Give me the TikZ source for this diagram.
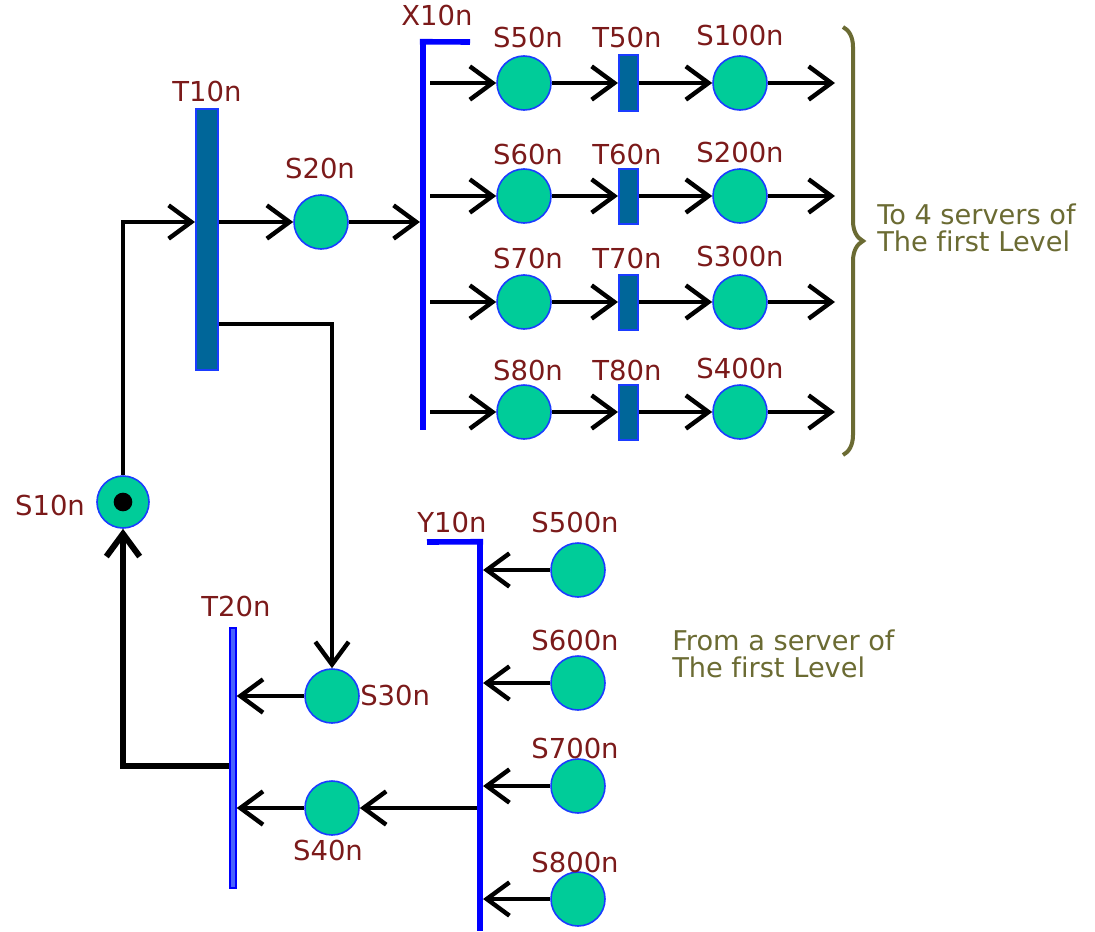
\documentclass[tikz,border=0pt]{standalone}
\usepackage{fontspec}
\setmainfont[Ligatures=NoCommon]{DejaVu Sans}
\usetikzlibrary{arrows.meta,decorations.pathreplacing,calc}
\definecolor{labred}{HTML}{7B1A1A}
\definecolor{olivetxt}{HTML}{6B6B33}
\definecolor{placefill}{HTML}{00CC99}
\definecolor{transfill}{HTML}{006699}
\definecolor{edgeblue}{HTML}{1A3CFF}
\begin{document}
\begin{tikzpicture}[x=0.75pt,y=-0.75pt,
  place/.style={circle,draw=edgeblue,line width=1.2pt,fill=placefill,minimum size=40.5pt,inner sep=0pt},
  trans/.style={rectangle,draw=edgeblue,line width=1.5pt,fill=transfill,minimum width=14.25pt,minimum height=41.25pt,inner sep=0pt},
  bar/.style={rectangle,fill=blue,draw=none,minimum width=4.2pt,inner sep=0pt},
  lab/.style={font=\fontsize{20.6}{23}\selectfont,text=labred,inner sep=0pt},
  note/.style={font=\fontsize{20.4}{20.5}\selectfont,text=olivetxt,align=left,inner sep=0pt,anchor=west},
  conn/.style={line width=3.3pt,black},
  arr/.style={conn,-{Straight Barb[length=17pt,width=25pt]}},
  ]
\useasboundingbox (0,0) rectangle (1095,931);

% ---------- S10n and T10n ----------
\node[place,minimum size=39pt] (S10) at (123,502) {};
\node[circle,fill=black,minimum size=14pt,inner sep=0pt] (S10dot) at (123,502) {};
\node[lab] (S10lab) at (50,505) {S10n};

\node[trans,minimum width=16.5pt,minimum height=195.75pt] (T10) at (207,239.5) {};
\node[lab] (T10lab) at (207,92) {T10n};

\node[place] (S20) at (321,222) {};
\node[lab] (S20lab) at (320,168) {S20n};

% ---------- X10n bar ----------
\node[bar,minimum height=291pt] (X10) at (423,236) {};
\draw[blue,line width=4.2pt] (X10.north west) -- (470,42);
\node[lab] (X10lab) at (437,16) {X10n};

% ---------- rows ----------
\foreach \i/\y/\sa/\t/\sb/\ly in {1/83/S50n/T50n/S100n/38,
                               2/196/S60n/T60n/S200n/155,
                               3/302/S70n/T70n/S300n/258,
                               4/412/S80n/T80n/S400n/370}{
  \node[place] (SA\i) at (524,\y) {};
  \node[trans] (T\i) at (628.5,\y) {};
  \node[place] (SB\i) at (740,\y) {};
  \coordinate (E\i) at (835,\y);
  \coordinate (B\i) at (430,\y);
  \node[lab] (SA\i lab) at (528,\ly) {\sa};
  \node[lab] (T\i lab) at (627,\ly) {\t};
  \node[lab] (SB\i lab) at (740,\ly-2) {\sb};
  \draw[arr] (B\i) -- (SA\i);
  \draw[arr] (SA\i) -- (T\i);
  \draw[arr] (T\i) -- (SB\i);
  \draw[arr] (SB\i) -- (E\i);
}

% ---------- brace and note ----------
\draw[olivetxt,line width=3pt,decorate,decoration={brace,amplitude=15pt}] (843,27) -- (843,455);
\node[note] (note1) at (877,228) {To 4 servers of\\The first Level};

% ---------- upper connectors ----------
\draw[arr] (S10.north) |- (T10.west |- S20);
\draw[arr] (T10.east |- S20) -- (S20);
\draw[arr] (S20) -- (X10.west |- S20);
\coordinate (k1) at (331,324);
\node[place] (S30) at (332,696) {};
\node[lab,anchor=west] (S30lab) at (360,695) {S30n};
\draw[arr] (T10.east |- k1) -| (S30);

% ---------- lower part ----------
\node[bar,minimum height=291.75pt] (Y10) at (480,736.5) {};
\draw[blue,line width=4.2pt] (Y10.north east) -- (427,542);
\node[lab] (Y10lab) at (452,522) {Y10n};

\node[rectangle,draw=blue,fill=edgeblue!80,line width=1pt,minimum width=4.5pt,minimum height=195pt,inner sep=0pt] (T20) at (233,758) {};
\node[lab] (T20lab) at (236,606) {T20n};

\node[place] (S40) at (332,808) {};
\node[lab] (S40lab) at (328,850) {S40n};

\foreach \i/\y/\ly/\nm in {5/570/522/S500n,6/683/640/S600n,7/786/748/S700n,8/899/862/S800n}{
  \node[place] (SC\i) at (578,\y) {};
  \node[lab] (SC\i lab) at (575,\ly) {\nm};
  \draw[arr] (SC\i) -- (Y10.east |- SC\i);
}

\draw[arr] (Y10.west |- S40) -- (S40);
\draw[arr] (S40) -- (T20.east |- S40);
\draw[arr] (S30) -- (T20.east |- S30);
\coordinate (k2) at (0,766);
\draw[arr,line width=4.5pt] (T20.west |- k2) -| (S10.south);

\node[note] (note2) at (672,654) {From a server of\\The first Level};
\end{tikzpicture}
\end{document}
